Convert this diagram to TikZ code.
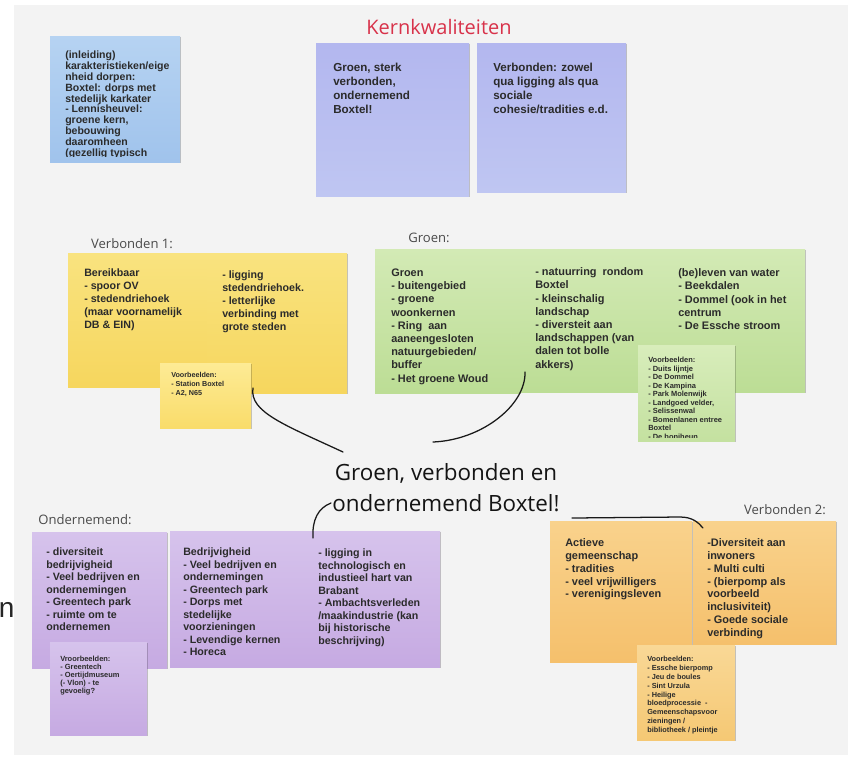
\documentclass[tikz,border=0pt]{standalone}
\usepackage{fontspec}
\setmainfont{Liberation Sans}
\newfontfamily\handfont{Open Sans}
\usetikzlibrary{shadows}
\definecolor{ink}{HTML}{2B2B2B}
\definecolor{bgcol}{HTML}{F3F3F3}
\definecolor{hand}{HTML}{4A4A4A}
\definecolor{titlered}{HTML}{D8324A}
\definecolor{blueT}{HTML}{B6D3F2}\definecolor{blueB}{HTML}{A0C3EC}
\definecolor{kernT}{HTML}{B3B7EF}\definecolor{kernB}{HTML}{BFC6F2}
\definecolor{yelT}{HTML}{F9E37F}\definecolor{yelB}{HTML}{F6D65E}
\definecolor{yelsT}{HTML}{FDEB95}\definecolor{yelsB}{HTML}{F9DC6A}
\definecolor{grnT}{HTML}{D3EAB5}\definecolor{grnB}{HTML}{BCDD95}
\definecolor{grnsT}{HTML}{D8EDBB}\definecolor{grnsB}{HTML}{C4E1A0}
\definecolor{purT}{HTML}{D6C3EC}\definecolor{purB}{HTML}{C6AAE2}
\definecolor{orT}{HTML}{F9D28C}\definecolor{orB}{HTML}{F5C06C}
\definecolor{orsT}{HTML}{F9D896}\definecolor{orsB}{HTML}{F5C874}
\newcommand\fblue{\bfseries\fontsize{7.9}{8.1}\selectfont}
\newcommand\fkern{\bfseries\fontsize{8.7}{10.5}\selectfont}
\newcommand\fyel{\bfseries\fontsize{8.0}{9.75}\selectfont}
\newcommand\fgrn{\bfseries\fontsize{8.2}{9.9}\selectfont}
\newcommand\fpur{\bfseries\fontsize{8.0}{9.4}\selectfont}
\newcommand\forg{\bfseries\fontsize{8.2}{9.6}\selectfont}
\newcommand\fsmall{\bfseries\fontsize{5.4}{6.5}\selectfont}
\newcommand\flabel{\handfont\fontsize{9.8}{11}\selectfont}
\newcommand\stickynote[7]{\node[notebox, top color=#6, bottom color=#7,
  minimum width={0.75pt*(#4-#2)}, minimum height={0.75pt*(#5-#3)}]
  (#1) at ({(#2+#4)/2},{(#3+#5)/2}) {};}
\tikzset{
  notebox/.style={rectangle, draw=none, inner sep=0pt,
    drop shadow={shadow xshift=0.6pt, shadow yshift=-0.8pt, opacity=0.22, fill=black}},
  ntxt/.style={anchor=north west, inner sep=0pt, align=left, text=ink},
  lbl/.style={inner sep=0pt, text=hand, font=\flabel},
  link/.style={draw=black!90, line width=0.95pt, line cap=round}
}
\begin{document}
\begin{tikzpicture}[x=0.75pt,y=-0.75pt]
\useasboundingbox (0,0) rectangle (848,765);
\fill[white] (0,0) rectangle (848,765);
\fill[bgcol] (14,5) rectangle (848,755);

% left fragment
\node[anchor=base west, inner sep=0pt, font=\fontsize{21}{21}\selectfont, text=black!85] (frag) at (-1.5,617) {n};

% title
\node[inner sep=0pt, text=titlered, font=\handfont\fontsize{15}{17}\selectfont] (title) at (439,27) {Kernkwaliteiten};

% blue intro note
\stickynote{b1}{50}{36}{180}{162}{blueT}{blueB}
\begin{scope}
\clip (50,36) rectangle (180,156);
\node[ntxt, font=\fblue] (b1t) at (65,51) {(inleiding)\\karakteristieken/eige\\nheid dorpen:\\Boxtel: dorps met\\stedelijk karkater\\- Lennisheuvel:\\groene kern,\\bebouwing\\daaromheen\\(gezellig typisch};
\end{scope}

% kern notes
\stickynote{k1}{316}{43}{469}{196}{kernT}{kernB}
\stickynote{k2}{477}{43}{626}{192}{kernT}{kernB}
\node[ntxt, font=\fkern] (k1t) at (333,62.5) {Groen, sterk\\verbonden,\\ondernemend\\Boxtel!};
\node[ntxt, font=\fkern] (k2t) at (493,62.5) {Verbonden: zowel\\qua ligging als qua\\sociale\\cohesie/tradities e.d.};

% Verbonden 1
\node[lbl] (lv1) at (132,244) {Verbonden 1:};
\stickynote{yA}{68}{253}{207}{387}{yelT}{yelB}
\stickynote{yB}{207}{253}{347}{393}{yelT}{yelB}
\node[ntxt, font=\fyel] (yAt) at (84,268.5) {Bereikbaar\\- spoor OV\\- stedendriehoek\\(maar voornamelijk\\DB \& EIN)};
\node[ntxt, font=\fyel] (yBt) at (222,270.5) {- ligging\\stedendriehoek.\\- letterlijke\\verbinding met\\grote steden};
\stickynote{yC}{160}{363}{251}{428}{yelsT}{yelsB}
\node[ntxt, font=\fsmall] (yCt) at (171,372.5) {Voorbeelden:\\- Station Boxtel\\- A2, N65};

% Groen
\node[lbl] (lgr) at (429,238) {Groen:};
\stickynote{g1}{375}{249}{520}{393}{grnT}{grnB}
\stickynote{g2}{520}{249}{663}{392}{grnT}{grnB}
\stickynote{g3}{663}{249}{805}{392}{grnT}{grnB}
\node[ntxt, font=\fgrn] (g1t) at (391,268.5) {Groen\\- buitengebied\\- groene\\woonkernen\\- Ring\ \ aan\\aaneengesloten\\natuurgebieden/\\buffer\\- Het groene Woud};
\node[ntxt, font=\fgrn] (g2t) at (535,267.5) {- natuurring\ \ rondom\\Boxtel\\- kleinschalig\\landschap\\- diversteit aan\\landschappen (van\\dalen tot bolle\\akkers)};
\node[ntxt, font=\fgrn] (g3t) at (678,268.5) {(be)leven van water\\- Beekdalen\\- Dommel (ook in het\\centrum\\- De Essche stroom};
\stickynote{g4}{638}{345}{735}{441}{grnsT}{grnsB}
\begin{scope}
\clip (638,345) rectangle (735,437);
\node[ntxt, font=\bfseries\fontsize{5.6}{6.4}\selectfont] (g4t) at (648,357) {Voorbeelden:\\- Duits lijntje\\- De Dommel\\- De Kampina\\- Park Molenwijk\\- Landgoed velder,\\- Selissenwal\\- Bomenlanen entree\\Boxtel\\- De boniheun};
\end{scope}

% central text
\node[inner sep=0pt, align=center, text=black!92, font=\handfont\fontsize{16.8}{23.2}\selectfont] (center) at (446,488) {Groen, verbonden en\\ondernemend Boxtel!};

% Ondernemend
\node[lbl] (lon) at (85,520) {Ondernemend:};
\stickynote{p1}{32}{532}{167}{668}{purT}{purB}
\stickynote{p2}{170}{531}{305}{667}{purT}{purB}
\stickynote{p3}{305}{531}{440}{667}{purT}{purB}
\node[ntxt, font=\fpur] (p1t) at (46,547.5) {- diversiteit\\bedrijvigheid\\- Veel bedrijven en\\ondernemingen\\- Greentech park\\- ruimte om te\\ondernemen};
\node[ntxt, font=\fpur] (p2t) at (183,547.5) {Bedrijvigheid\\- Veel bedrijven en\\ondernemingen\\- Greentech park\\- Dorps met\\stedelijke\\voorzieningen\\- Levendige kernen\\- Horeca};
\node[ntxt, font=\fpur] (p3t) at (318,548.5) {- ligging in\\technologisch en\\industieel hart van\\Brabant\\- Ambachtsverleden\\/maakindustrie (kan\\bij historische\\beschrijving)};
\stickynote{p4}{50}{642}{147}{735}{purT}{purB}
\node[ntxt, font=\bfseries\fontsize{5.6}{6}\selectfont] (p4t) at (60,656) {Vroorbeelden:\\- Greentech\\- Oertijdmuseum\\(- Vlon) - te\\gevoelig?};

% Verbonden 2
\node[lbl] (lv2) at (785,510) {Verbonden 2:};
\stickynote{o1}{550}{521}{692}{662}{orT}{orB}
\stickynote{o2}{693}{521}{836}{644}{orT}{orB}
\node[ntxt, font=\forg] (o1t) at (565,538.5) {Actieve\\gemeenschap\\- tradities\\- veel vrijwilligers\\- verenigingsleven};
\node[ntxt, font=\forg] (o2t) at (707,538.5) {-Diversiteit aan\\inwoners\\- Multi culti\\- (bierpomp als\\voorbeeld\\inclusiviteit)\\- Goede sociale\\verbinding};
\stickynote{o3}{637}{645}{735}{740}{orsT}{orsB}
\node[ntxt, font=\bfseries\fontsize{5.5}{6.65}\selectfont] (o3t) at (647,656) {Voorbeelden:\\- Essche bierpomp\\- Jeu de boules\\- Sint Urzula\\- Heilige\\bloedprocessie\ \ -\\Gemeenschapsvoor\\zieningen /\\bibliotheek / pleintje};

% connectors
\coordinate (c1a) at (253,388);
\coordinate (c1b) at (343,452);
\coordinate (c2a) at (525,372);
\coordinate (c2b) at (433,442);
\coordinate (c3a) at (313,538);
\coordinate (c3b) at (331,503);
\coordinate (c4a) at (572,518);
\coordinate (c4m) at (680,517);
\coordinate (c4b) at (703,528);
\draw[link] (c1a) .. controls (249,412) and (285,425) .. (c1b);
\draw[link] (c2a) .. controls (526,405) and (482,440) .. (c2b);
\draw[link] (c3a) .. controls (312,520) and (318,508) .. (c3b);
\draw[link] (c4a) -- (c4m) .. controls (692,517) and (698,522) .. (c4b);
\end{tikzpicture}
\end{document}
